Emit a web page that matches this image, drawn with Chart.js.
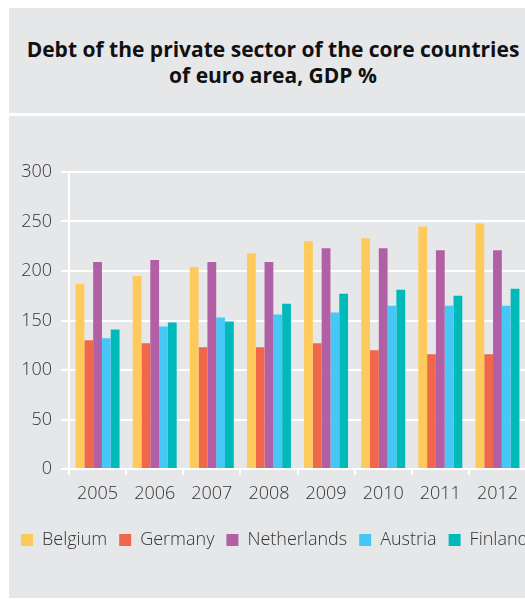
<!DOCTYPE html>
<html>
<head>
<meta charset="utf-8">
<script src="https://cdn.jsdelivr.net/npm/chart.js@4"></script>
<style>
  html, body { margin: 0; padding: 0; background: #fff; overflow: hidden; width: 525px; height: 599px; }
  .panel { position: absolute; left: 9px; background: #e6e7e9; }
  #head { top: 8px; width: 528px; height: 105px; }
  #head h1 { margin: 0; padding-top: 28px; font: 700 21px "Open Sans", sans-serif; line-height: 26px; text-align: center; color: #111; }
  #body { top: 116px; width: 560px; height: 482px; }
</style>
</head>
<body>
<div class="panel" id="head"><h1>Debt of the private sector of the core countries<br>of euro area, GDP %</h1></div>
<div class="panel" id="body"><canvas id="debt-chart" width="560" height="482"></canvas></div>
<script>
var years = ["2005", "2006", "2007", "2008", "2009", "2010", "2011", "2012"];
var belgium = [187, 195, 204, 218, 230, 233, 245, 248];
var germany = [130, 127, 123, 123, 127, 120, 116, 116];
var netherlands = [209, 211, 209, 209, 223, 223, 221, 221];
var austria = [132, 144, 153, 156, 158, 165, 165, 165];
var finland = [141, 148, 149, 167, 177, 181, 175, 182];

Chart.defaults.font.family = "'Open Sans', sans-serif";
Chart.defaults.font.weight = "300";
Chart.defaults.color = "#333";

function bars(label, data, color) {
  return {
    label: label,
    data: data,
    backgroundColor: color,
    borderWidth: 0,
    barPercentage: 1,
    categoryPercentage: 0.77,
  };
}

new Chart(document.getElementById("debt-chart").getContext("2d"), {
  type: "bar",
  data: {
    labels: years,
    datasets: [
      bars("Belgium", belgium, "#ffca5c"),
      bars("Germany", germany, "#f1674a"),
      bars("Netherlands", netherlands, "#b160a5"),
      bars("Austria", austria, "#45c8f5"),
      bars("Finland", finland, "#00b9b9"),
    ],
  },
  options: {
    responsive: false,
    animation: false,
    layout: { padding: { top: 56, right: 0, bottom: 39, left: 0 } },
    plugins: {
      tooltip: { enabled: false },
      legend: {
        position: "bottom",
        align: "start",
        labels: { boxWidth: 12, boxHeight: 12, padding: 12, font: { size: 18 } },
      },
    },
    scales: {
      x: {
        grid: { drawOnChartArea: false, color: "#fff", lineWidth: 2, tickLength: 6, offset: true },
        border: { color: "#fff", width: 2 },
        ticks: { padding: 8, font: { size: 18 } },
        afterFit: function (scale) { scale.height = 50; },
      },
      y: {
        min: 0,
        max: 300,
        grid: { color: "#fff", lineWidth: 2, tickLength: 8 },
        border: { color: "#fff", width: 2 },
        ticks: { stepSize: 50, padding: 9, font: { size: 18 } },
        afterFit: function (scale) { scale.width = 60; },
      },
      // empty strip on the right so the plot stops short of the canvas edge
      spacer: {
        position: "right",
        min: 0,
        max: 1,
        grid: { display: false },
        border: { display: false },
        ticks: { display: false },
        afterFit: function (scale) { scale.width = 43; },
      },
    },
  },
});
</script>
</body>
</html>
